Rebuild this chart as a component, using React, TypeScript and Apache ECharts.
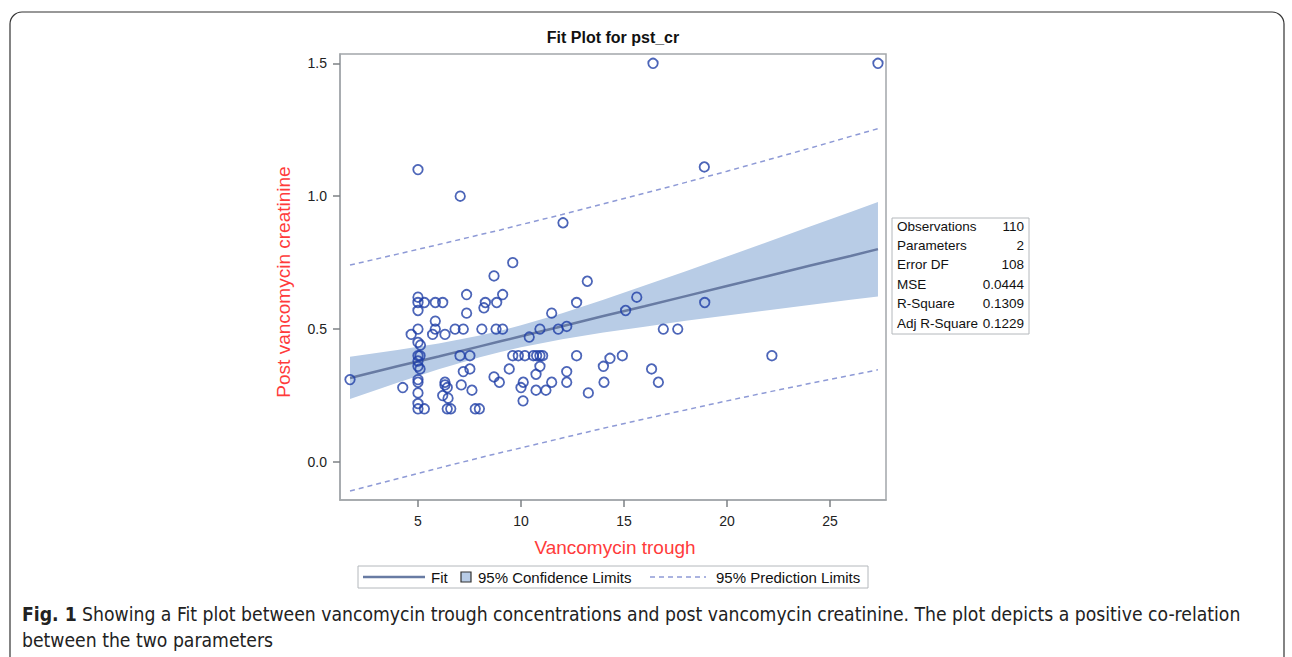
import React, { useEffect, useRef } from "react";
import * as echarts from "echarts";

// Observations: vancomycin trough (x) and post vancomycin creatinine (y)
const troughX = [
  1.7, 4.26, 4.67, 5.0, 5.0, 5.31, 5.0, 5.0, 5.0, 5.12, 5.0, 5.1, 5.0, 5.0, 5.1, 5.0, 5.0, 5.0, 5.0, 5.0,
  5.31, 5.84, 6.2, 7.36, 8.69, 9.11, 8.27, 8.2, 8.82, 5.84, 5.84, 5.71, 6.31, 7.36, 6.8, 7.2, 8.1, 8.79, 9.11, 7.04,
  7.52, 7.2, 7.52, 6.31, 6.31, 6.42, 6.2, 6.46, 7.1, 7.62, 6.42, 6.59, 7.78, 7.98, 8.69, 8.95, 9.43, 10.11, 10.0, 10.1,
  10.4, 9.6, 9.87, 10.19, 10.6, 10.76, 10.92, 11.05, 12.7, 14.92, 13.22, 12.7, 15.62, 11.49, 15.08, 10.92, 11.81, 12.22, 16.91, 17.61,
  14.32, 14.0, 10.92, 12.22, 10.73, 16.34, 10.73, 11.21, 11.49, 12.22, 14.03, 16.67, 13.27, 18.92, 22.18, 16.41, 27.33, 5.0, 7.05, 18.9,
  12.04, 9.6,
];
const creatY = [
  0.31, 0.28, 0.48, 0.62, 0.6, 0.6, 0.57, 0.5, 0.45, 0.44, 0.4, 0.4, 0.38, 0.36, 0.35, 0.31, 0.3, 0.26, 0.22, 0.2,
  0.2, 0.6, 0.6, 0.63, 0.7, 0.63, 0.6, 0.58, 0.6, 0.53, 0.5, 0.48, 0.48, 0.56, 0.5, 0.5, 0.5, 0.5, 0.5, 0.4,
  0.4, 0.34, 0.35, 0.3, 0.29, 0.28, 0.25, 0.24, 0.29, 0.27, 0.2, 0.2, 0.2, 0.2, 0.32, 0.3, 0.35, 0.3, 0.28, 0.23,
  0.47, 0.4, 0.4, 0.4, 0.4, 0.4, 0.4, 0.4, 0.4, 0.4, 0.68, 0.6, 0.62, 0.56, 0.57, 0.5, 0.5, 0.51, 0.5, 0.5,
  0.39, 0.36, 0.36, 0.34, 0.33, 0.35, 0.27, 0.27, 0.3, 0.3, 0.3, 0.3, 0.26, 0.6, 0.4, 1.5, 1.5, 1.1, 1.0, 1.11,
  0.9, 0.75,
];

// Fit line, confidence band and prediction limits read along x
const curveX = [1.7, 4, 6, 8, 9, 10, 12, 14, 16, 18, 20, 22, 24, 26, 27.33];
const fitY = [0.316, 0.36, 0.397, 0.435, 0.454, 0.473, 0.511, 0.549, 0.586, 0.624, 0.662, 0.7, 0.738, 0.775, 0.801];
const clLower = [0.237, 0.298, 0.349, 0.394, 0.414, 0.432, 0.462, 0.487, 0.509, 0.531, 0.551, 0.571, 0.591, 0.61, 0.623];
const clUpper = [0.396, 0.421, 0.446, 0.476, 0.494, 0.514, 0.56, 0.61, 0.664, 0.718, 0.773, 0.829, 0.885, 0.941, 0.978];
const plLower = [-0.109, -0.063, -0.023, 0.016, 0.035, 0.053, 0.09, 0.127, 0.162, 0.196, 0.23, 0.263, 0.295, 0.326, 0.347];
const plUpper = [0.741, 0.782, 0.818, 0.855, 0.873, 0.893, 0.931, 0.971, 1.011, 1.052, 1.094, 1.137, 1.18, 1.225, 1.254];

const xTicks = [5, 10, 15, 20, 25];
const yTicks = [0, 0.5, 1, 1.5];

const statLabels = ["Observations", "Parameters", "Error DF", "MSE", "R-Square", "Adj R-Square"];
const statValues = ["110", "2", "108", "0.0444", "0.1309", "0.1229"];

const FONT = "'Liberation Sans', Arial, sans-serif";
const CAPTION_FONT = "'DejaVu Sans Condensed', 'Liberation Sans Narrow', 'Liberation Sans', sans-serif";
const FRAME = "#a3a7ab";
const TICK = "#7d8185";
const MARKER = "#1f3fa6";
const FIT = "#687ba3";
const BAND = "#b8cce6";
const PRED = "#8e9ad6";
const RED = "#ff3b3b";

export default function App() {
  const ref = useRef<HTMLDivElement>(null);
  useEffect(() => {
    if (!ref.current) return;
    const chart = echarts.init(ref.current, undefined, { renderer: "svg" });

    const statGraphics: any[] = [];
    statLabels.forEach((l, i) => {
      statGraphics.push({
        type: "text",
        left: 897,
        top: 219 + i * 19.4,
        style: { text: l, fontFamily: FONT, fontSize: 13.5, fill: "#111" },
      });
      statGraphics.push({
        type: "text",
        x: 1024,
        y: 219 + i * 19.4,
        style: { text: statValues[i], fontFamily: FONT, fontSize: 13.5, fill: "#111", align: "right" },
      });
    });

    const option: any = {
      animation: false,
      backgroundColor: "#fff",
      grid: {
        left: 340,
        top: 54,
        right: 1292 - 886,
        bottom: 657 - 500,
        show: true,
        borderColor: FRAME,
        borderWidth: 1.5,
        backgroundColor: "#fff",
      },
      xAxis: {
        type: "value",
        min: 1.214,
        max: 27.72,
        position: "bottom",
        axisLine: { show: true, onZero: false, lineStyle: { color: FRAME, width: 1.5 } },
        splitLine: { show: false },
        axisTick: {
          show: true,
          inside: false,
          length: 7,
          lineStyle: { color: TICK, width: 1.5 },
          customValues: xTicks,
        },
        axisLabel: {
          customValues: xTicks,
          margin: 14,
          fontFamily: FONT,
          fontSize: 14,
          color: "#222",
        },
      },
      yAxis: {
        type: "value",
        min: -0.143,
        max: 1.535,
        position: "left",
        axisLine: { show: true, onZero: false, lineStyle: { color: FRAME, width: 1.5 } },
        splitLine: { show: false },
        axisTick: {
          show: true,
          inside: false,
          length: 7,
          lineStyle: { color: TICK, width: 1.5 },
          customValues: yTicks,
        },
        axisLabel: {
          customValues: yTicks,
          margin: 13,
          fontFamily: FONT,
          fontSize: 14,
          color: "#222",
          formatter: (v: number) => v.toFixed(1),
        },
      },
      series: [
        {
          type: "custom",
          silent: true,
          z: 1,
          data: curveX.map((x, i) => [x, clLower[i], clUpper[i]]),
          encode: { x: 0, y: [1, 2] },
          renderItem: (params: any, api: any) => {
            if (params.dataIndex !== 0) return null;
            const pts: number[][] = [];
            for (let i = 0; i < curveX.length; i++) pts.push(api.coord([curveX[i], clUpper[i]]));
            for (let i = curveX.length - 1; i >= 0; i--) pts.push(api.coord([curveX[i], clLower[i]]));
            return { type: "polygon", shape: { points: pts }, style: { fill: BAND } };
          },
        },
        {
          type: "line",
          silent: true,
          z: 2,
          symbol: "none",
          data: curveX.map((x, i) => [x, plUpper[i]]),
          lineStyle: { color: PRED, width: 1.5, type: [5, 4] },
        },
        {
          type: "line",
          silent: true,
          z: 2,
          symbol: "none",
          data: curveX.map((x, i) => [x, plLower[i]]),
          lineStyle: { color: PRED, width: 1.5, type: [5, 4] },
        },
        {
          type: "line",
          silent: true,
          z: 3,
          symbol: "none",
          data: curveX.map((x, i) => [x, fitY[i]]),
          lineStyle: { color: FIT, width: 2.5 },
        },
        {
          type: "scatter",
          silent: true,
          z: 4,
          symbol: "circle",
          symbolSize: 9.5,
          data: troughX.map((x, i) => [x, creatY[i]]),
          itemStyle: { color: "rgba(0,0,0,0)", borderColor: MARKER, borderWidth: 1.8 },
        },
      ],
      graphic: [
        {
          type: "rect",
          shape: { x: 10, y: 12, width: 1274, height: 700, r: 12 },
          style: { fill: "none", stroke: "#333", lineWidth: 1.2 },
          silent: true,
          z: -10,
        },
        {
          type: "text",
          x: 613,
          y: 37,
          style: {
            text: "Fit Plot for pst_cr",
            fontFamily: FONT,
            fontSize: 16,
            fontWeight: "bold",
            fill: "#111",
            align: "center",
            verticalAlign: "middle",
          },
        },
        {
          type: "text",
          x: 283,
          y: 282,
          rotation: Math.PI / 2,
          style: {
            text: "Post vancomycin creatinine",
            fontFamily: FONT,
            fontSize: 19,
            fill: RED,
            align: "center",
            verticalAlign: "middle",
          },
        },
        {
          type: "text",
          x: 615,
          y: 547,
          style: {
            text: "Vancomycin trough",
            fontFamily: FONT,
            fontSize: 19,
            fill: RED,
            align: "center",
            verticalAlign: "middle",
          },
        },
        {
          type: "rect",
          shape: { x: 892, y: 218, width: 137, height: 116 },
          style: { fill: "#fff", stroke: "#b4b8bc", lineWidth: 1 },
        },
        ...statGraphics,
        // legend
        {
          type: "rect",
          shape: { x: 358, y: 566, width: 510, height: 22 },
          style: { fill: "#fff", stroke: "#b4b8bc", lineWidth: 1 },
        },
        {
          type: "line",
          shape: { x1: 363, y1: 577, x2: 425, y2: 577 },
          style: { stroke: FIT, lineWidth: 2.5 },
        },
        {
          type: "text",
          x: 431,
          y: 577,
          style: { text: "Fit", fontFamily: FONT, fontSize: 15, fill: "#111", verticalAlign: "middle" },
        },
        {
          type: "rect",
          shape: { x: 461, y: 572, width: 10, height: 10 },
          style: { fill: BAND, stroke: "#333", lineWidth: 1.2 },
        },
        {
          type: "text",
          x: 478,
          y: 577,
          style: {
            text: "95% Confidence Limits",
            fontFamily: FONT,
            fontSize: 15,
            fill: "#111",
            verticalAlign: "middle",
          },
        },
        {
          type: "line",
          shape: { x1: 650, y1: 577, x2: 706, y2: 577 },
          style: { stroke: PRED, lineWidth: 1.5, lineDash: [5, 4] },
        },
        {
          type: "text",
          x: 716,
          y: 577,
          style: {
            text: "95% Prediction Limits",
            fontFamily: FONT,
            fontSize: 15,
            fill: "#111",
            verticalAlign: "middle",
          },
        },
        // caption
        {
          type: "text",
          x: 22,
          y: 614,
          style: {
            text:
              "{b|Fig. 1} Showing a Fit plot between vancomycin trough concentrations and post vancomycin creatinine. The plot depicts a positive co-relation",
            fontFamily: CAPTION_FONT,
            fontSize: 19.2,
            fill: "#222",
            verticalAlign: "middle",
            rich: {
              b: { fontFamily: CAPTION_FONT, fontSize: 19.2, fontWeight: "bold", fill: "#222" },
            },
          },
        },
        {
          type: "text",
          x: 22,
          y: 640,
          style: {
            text: "between the two parameters",
            fontFamily: CAPTION_FONT,
            fontSize: 19.2,
            fill: "#222",
            verticalAlign: "middle",
          },
        },
      ],
    };
    chart.setOption(option);
    return () => chart.dispose();
  }, []);
  return (
    <div
      ref={ref}
      style={{ position: "fixed", left: 0, top: 0, width: 1292, height: 657, background: "#fff" }}
    />
  );
}
